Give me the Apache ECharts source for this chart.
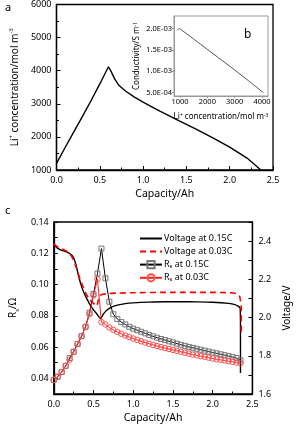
<!DOCTYPE html>
<html><head><meta charset="utf-8">
<script src="https://cdn.jsdelivr.net/npm/echarts@6/dist/echarts.min.js"></script>
<style>html,body{margin:0;padding:0;background:#fff}#c{width:300px;height:427px}</style>
</head><body><div id="c"></div>
<script>
// Panel a: Li+ concentration vs capacity
const capA = [0, 0.1, 0.2, 0.3, 0.4, 0.5, 0.6, 0.63, 0.67, 0.72, 0.8, 0.9, 1.0, 1.1, 1.2, 1.4, 1.6, 1.8, 2.0, 2.2, 2.36];
const concA = [1200, 1680, 2150, 2620, 3100, 3600, 4120, 3980, 3760, 3560, 3380, 3200, 3050, 2910, 2770, 2510, 2250, 1980, 1690, 1360, 1000];
// Panel b (inset): conductivity vs concentration
const concB = [900, 980, 1500, 2000, 2500, 3000, 3500, 4050];
const condB = [1.96e-3, 2.0e-3, 1.75e-3, 1.51e-3, 1.27e-3, 1.03e-3, 0.78e-3, 0.5e-3];
// Panel c: voltage curves
const capV015 = [0, 0.05, 0.1, 0.15, 0.2, 0.24, 0.27, 0.3, 0.34, 0.38, 0.42, 0.46, 0.5, 0.54, 0.59, 0.62, 0.66, 0.7, 0.75, 0.8, 0.9, 1.0, 1.2, 1.4, 1.6, 1.8, 2.0, 2.2, 2.28, 2.32, 2.345, 2.35, 2.35];
const volt015 = [2.385, 2.362, 2.352, 2.345, 2.335, 2.32, 2.29, 2.24, 2.175, 2.13, 2.095, 2.065, 2.04, 2.02, 1.995, 2.015, 2.035, 2.048, 2.058, 2.065, 2.073, 2.077, 2.081, 2.083, 2.083, 2.082, 2.08, 2.074, 2.068, 2.06, 2.05, 1.95, 1.71];
const capV003 = [0, 0.05, 0.1, 0.15, 0.2, 0.25, 0.3, 0.35, 0.4, 0.45, 0.5, 0.54, 0.56, 0.58, 0.62, 0.7, 0.8, 1.0, 1.5, 2.0, 2.2, 2.3, 2.34, 2.36, 2.36];
const volt003 = [2.385, 2.37, 2.36, 2.35, 2.335, 2.30, 2.24, 2.18, 2.13, 2.095, 2.075, 2.06, 2.09, 2.115, 2.122, 2.126, 2.128, 2.13, 2.132, 2.132, 2.13, 2.125, 2.11, 2.05, 1.92];
// Panel c: R_s curves
const capR = [0, 0.05, 0.1, 0.15, 0.2, 0.25, 0.3, 0.35, 0.4, 0.45, 0.5, 0.55, 0.6, 0.65, 0.7, 0.75, 0.8, 0.85, 0.9, 0.95, 1.0, 1.05, 1.1, 1.15, 1.2, 1.25, 1.3, 1.35, 1.4, 1.45, 1.5, 1.55, 1.6, 1.65, 1.7, 1.75, 1.8, 1.85, 1.9, 1.95, 2.0, 2.05, 2.1, 2.15, 2.2, 2.25, 2.3, 2.35];
const rs015 = [0.039, 0.041, 0.044, 0.048, 0.053, 0.057, 0.062, 0.067, 0.073, 0.082, 0.094, 0.107, 0.123, 0.104, 0.089, 0.081, 0.078, 0.076, 0.0745, 0.073, 0.0718, 0.0708, 0.0698, 0.0688, 0.0678, 0.0669, 0.066, 0.0652, 0.0645, 0.0637, 0.063, 0.0622, 0.0615, 0.0608, 0.0601, 0.0595, 0.0589, 0.0583, 0.0577, 0.0571, 0.0565, 0.056, 0.0554, 0.0548, 0.0542, 0.0536, 0.0529, 0.0515];
const rs003 = [0.039, 0.041, 0.044, 0.048, 0.052, 0.057, 0.062, 0.067, 0.073, 0.081, 0.093, 0.1035, 0.076, 0.0745, 0.0725, 0.071, 0.0697, 0.0685, 0.0674, 0.0664, 0.0655, 0.0646, 0.0637, 0.0629, 0.0621, 0.0614, 0.0607, 0.06, 0.0594, 0.0588, 0.0582, 0.0576, 0.057, 0.0564, 0.0558, 0.0552, 0.0547, 0.0542, 0.0537, 0.0532, 0.0527, 0.0522, 0.0518, 0.0514, 0.051, 0.0506, 0.0501, 0.0497];

const FONT = 'Noto Sans';
const zip = (a, b) => a.map((v, i) => [v, b[i]]);
const supRich = {
  n: {fontSize: 10, fontFamily: FONT, color: '#000', lineHeight: 14},
  sup: {fontSize: 6, fontFamily: FONT, color: '#000', verticalAlign: 'top', lineHeight: 6},
  sub: {fontSize: 6, fontFamily: FONT, color: '#000', verticalAlign: 'bottom', lineHeight: 6},
  sups: {fontSize: 5, fontFamily: FONT, color: '#000', verticalAlign: 'top', lineHeight: 5}
};
const lbl = {fontFamily: FONT, fontSize: 9, color: '#000'};
const tick = {inside: true, length: 4, lineStyle: {color: '#000', width: 1}};
const minor = {show: true, splitNumber: 2, length: 2.5, lineStyle: {color: '#000', width: 1}};
const line = {lineStyle: {color: '#000', width: 1.3}};

const chart = echarts.init(document.getElementById('c'), null, {renderer: 'canvas'});
chart.setOption({
  animation: false,
  backgroundColor: '#fff',
  grid: [
    {left: 43, top: 4, width: 230, height: 166, show: true, borderColor: '#000', borderWidth: 1.3, backgroundColor: 'transparent'},
    {left: 174, top: 16, width: 94, height: 80, show: true, borderColor: '#999', borderWidth: 1, backgroundColor: '#fff', z: 5},
    {left: 43, top: 222, width: 220, height: 172, show: true, borderColor: '#000', borderWidth: 1.3, backgroundColor: 'transparent'}
  ],
  xAxis: [
    {gridIndex: 0, type: 'value', min: 0, max: 2.5, interval: 0.5, axisLine: line, axisTick: tick, minorTick: minor, splitLine: {show: false},
     axisLabel: Object.assign({}, lbl, {margin: 6, formatter: v => v.toFixed(1)}),
     name: 'Capacity/Ah', nameLocation: 'middle', nameGap: 19, nameTextStyle: {fontFamily: FONT, fontSize: 10.5, color: '#000'}},
    {gridIndex: 1, type: 'value', min: 780, max: 4220, axisLine: {lineStyle: {color: '#999', width: 1}},
     axisTick: {length: 2, lineStyle: {color: '#999'}, customValues: [1000, 2000, 3000, 4000]}, splitLine: {show: false},
     axisLabel: {fontFamily: FONT, fontSize: 7.5, color: '#000', margin: 2, customValues: [1000, 2000, 3000, 4000], formatter: v => String(v)},
     name: 'Li{sups|+} concentration/mol m{sups|-3}', nameLocation: 'middle', nameGap: 17,
     nameTextStyle: {fontFamily: FONT, fontSize: 8, color: '#000', rich: supRich}, z: 6},
    {gridIndex: 2, type: 'value', min: 0, max: 2.5, interval: 0.5, axisLine: line, axisTick: tick, minorTick: minor, splitLine: {show: false},
     axisLabel: Object.assign({}, lbl, {margin: 6, formatter: v => v.toFixed(1)}),
     name: 'Capacity/Ah', nameLocation: 'middle', nameGap: 19, nameTextStyle: {fontFamily: FONT, fontSize: 10.5, color: '#000'}}
  ],
  yAxis: [
    {gridIndex: 0, type: 'value', min: 1000, max: 6000, interval: 1000, axisLine: line, axisTick: tick, minorTick: minor, splitLine: {show: false},
     axisLabel: Object.assign({}, lbl, {margin: 5, formatter: v => String(v)}),
     name: '{n|Li}{sup|+}{n| concentration/mol m}{sup|-3}', nameLocation: 'middle', nameGap: 30, nameRotate: 90,
     nameTextStyle: {fontFamily: FONT, fontSize: 10, color: '#000', rich: supRich}},
    {gridIndex: 1, type: 'value', min: 0.42e-3, max: 2.29e-3, axisLine: {lineStyle: {color: '#999', width: 1}},
     axisTick: {length: 2, lineStyle: {color: '#999'}, customValues: [5e-4, 1e-3, 1.5e-3, 2e-3]}, splitLine: {show: false},
     axisLabel: {fontFamily: FONT, fontSize: 7.5, color: '#000', margin: 2, customValues: [5e-4, 1e-3, 1.5e-3, 2e-3],
       formatter: v => { const e = Math.floor(Math.log10(v) + 1e-9); const m = v / Math.pow(10, e); return m.toFixed(1) + 'E-0' + (-e); }},
     name: 'Conductivity/S m{sups|-1}', nameLocation: 'middle', nameGap: 33, nameRotate: 90,
     nameTextStyle: {fontFamily: FONT, fontSize: 8, color: '#000', rich: supRich}, z: 6},
    {gridIndex: 2, type: 'value', min: 0.03, max: 0.14, interval: 0.01, axisLine: line, axisTick: tick, splitLine: {show: false},
     axisLabel: Object.assign({}, lbl, {margin: 5, formatter: v => Math.round(v * 100) % 2 === 0 ? v.toFixed(2) : ''}),
     name: '{n|R}{sub|s}{n|/Ω}', nameLocation: 'middle', nameGap: 30, nameRotate: 90,
     nameTextStyle: {fontFamily: FONT, fontSize: 10, color: '#000', rich: supRich}},
    {gridIndex: 2, type: 'value', position: 'right', min: 1.6, max: 2.5, interval: 0.1, axisLine: line, axisTick: tick, splitLine: {show: false},
     axisLabel: Object.assign({}, lbl, {margin: 6, formatter: v => Math.round(v * 10) % 2 === 0 ? v.toFixed(1) : ''}),
     name: 'Voltage/V', nameLocation: 'middle', nameGap: 26, nameRotate: 90,
     nameTextStyle: {fontFamily: FONT, fontSize: 10, color: '#000'}}
  ],
  legend: {
    left: 134, top: 229, orient: 'vertical', itemWidth: 22, itemHeight: 9, itemGap: 4,
    data: [
      {name: 'Voltage at 0.15C', itemStyle: {opacity: 0}},
      {name: 'Voltage at 0.03C', itemStyle: {opacity: 0}},
      'R_s at 0.15C', 'R_s at 0.03C'],
    formatter: n => n.indexOf('R_s') === 0 ? '{n|R}{sub|s}{n|' + n.slice(3) + '}' : n,
    textStyle: {fontFamily: FONT, fontSize: 9, color: '#000', padding: [0, 0, 0, -3],
      rich: {n: {fontFamily: FONT, fontSize: 9, color: '#000'}, sub: {fontFamily: FONT, fontSize: 6, color: '#000', verticalAlign: 'bottom', lineHeight: 6}}}
  },
  graphic: [
    {type: 'text', left: 5, top: 2, style: {text: 'a', fontFamily: FONT, fontSize: 11, fill: '#000'}},
    {type: 'text', left: 244, top: 29, z: 100, style: {text: 'b', fontFamily: FONT, fontSize: 12, fill: '#000'}},
    {type: 'text', left: 5, top: 205, style: {text: 'c', fontFamily: FONT, fontSize: 11, fill: '#000'}}
  ],
  series: [
    {type: 'line', xAxisIndex: 0, yAxisIndex: 0, data: zip(capA, concA), symbol: 'none', lineStyle: {color: '#000', width: 1.4}, itemStyle: {color: '#000'}},
    {type: 'line', xAxisIndex: 1, yAxisIndex: 1, data: zip(concB, condB), symbol: 'none', z: 7, lineStyle: {color: '#555', width: 1}, itemStyle: {color: '#555'}},
    {name: 'Voltage at 0.15C', type: 'line', xAxisIndex: 2, yAxisIndex: 3, data: zip(capV015, volt015), symbol: 'none', smooth: 0.2,
     lineStyle: {color: '#000', width: 1.4}, itemStyle: {color: '#000'}},
    {name: 'Voltage at 0.03C', type: 'line', xAxisIndex: 2, yAxisIndex: 3, data: zip(capV003, volt003), symbol: 'none', smooth: 0.2,
     lineStyle: {color: '#ff0000', width: 1.6, type: [6, 4]}, itemStyle: {color: '#ff0000'}},
    {name: 'R_s at 0.15C', type: 'line', xAxisIndex: 2, yAxisIndex: 2, data: zip(capR, rs015), symbol: 'rect', symbolSize: 5,
     lineStyle: {color: '#000', width: 1}, itemStyle: {color: 'rgba(255,255,255,0)', borderColor: '#777', borderWidth: 1}},
    {name: 'R_s at 0.03C', type: 'line', xAxisIndex: 2, yAxisIndex: 2, data: zip(capR, rs003), symbol: 'circle', symbolSize: 5.5,
     lineStyle: {color: '#ff2020', width: 1}, itemStyle: {color: 'rgba(255,255,255,0)', borderColor: '#ff5050', borderWidth: 1}}
  ]
});
</script></body></html>
